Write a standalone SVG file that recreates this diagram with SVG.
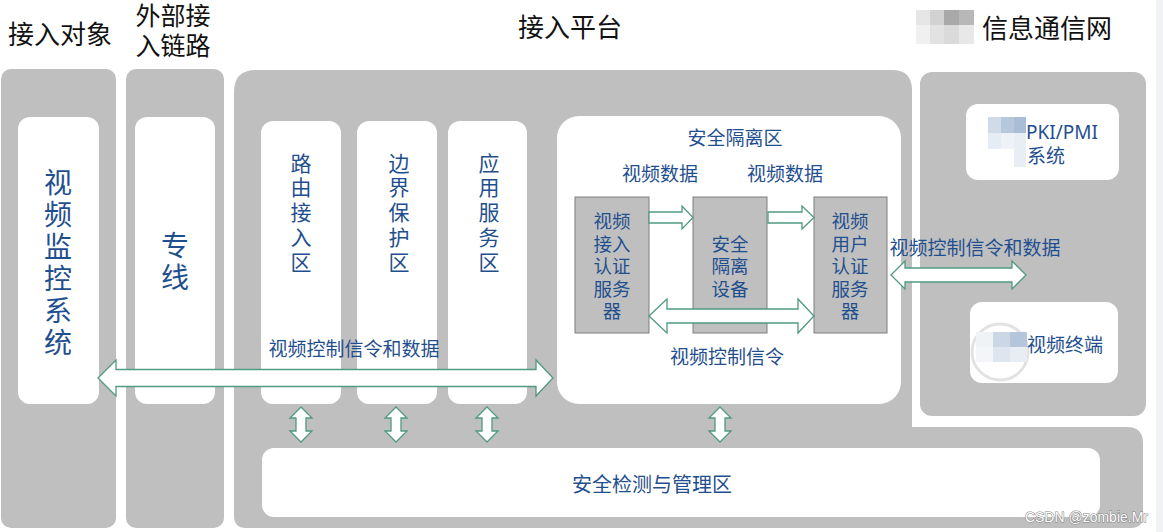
<svg xmlns="http://www.w3.org/2000/svg" width="1163" height="532" viewBox="0 0 1163 532">
<defs>
<style>
.bg{fill:#bfbfbf}
.wb{fill:#ffffff}
.gb{fill:#bfbfbf;stroke:#7f7f7f;stroke-width:1}
.ar{fill:#ffffff;stroke:#4f9a80;stroke-width:1.3;stroke-linejoin:miter}
.hd{font-family:"Noto Sans CJK SC","Noto Sans",sans-serif;font-size:26px;fill:#111;text-anchor:middle;dominant-baseline:central}
.tb{font-family:"Noto Sans CJK SC","Noto Sans",sans-serif;fill:#1f4f8f;text-anchor:middle;dominant-baseline:central}
.vt{font-family:"Noto Sans CJK SC","Noto Sans",sans-serif;fill:#1f4f8f;text-anchor:middle;writing-mode:vertical-rl}
.t28{font-size:28px}
.t21{font-size:21px}
.t19{font-size:19px}
.t18{font-size:18.5px}
.t20{font-size:20px}
.wm{font-family:"Liberation Sans",Arial,sans-serif;font-size:14px;fill:#ffffff;stroke:#808080;stroke-width:1;text-anchor:end;paint-order:stroke}
</style>
</defs>
<rect x="0" y="0" width="1163" height="532" fill="#ffffff"/>
<rect x="1156" y="0" width="7" height="532" fill="#f0f2f5"/>

<!-- headers -->
<g id="headers">
<text class="hd" x="60" y="32">接入对象</text>
<text class="hd" x="173" y="14" style="font-size:25px">外部接</text>
<text class="hd" x="173" y="44" style="font-size:25px">入链路</text>
<text class="hd" x="570" y="25">接入平台</text>
<text class="hd" x="1047" y="26">信息通信网</text>
<g id="mosaic-top">
<rect x="916" y="10" width="14" height="15" fill="#e6e6e6"/>
<rect x="930" y="10" width="14" height="15" fill="#d2d2d2"/>
<rect x="944" y="10" width="15" height="15" fill="#a9a9a9"/>
<rect x="959" y="10" width="15" height="15" fill="#b8b8b8"/>
<rect x="916" y="25" width="14" height="19" fill="#f0f0f0"/>
<rect x="930" y="25" width="14" height="19" fill="#e2e2e2"/>
<rect x="944" y="25" width="15" height="19" fill="#dadada"/>
<rect x="959" y="25" width="15" height="19" fill="#e8e8e8"/>
</g>
</g>

<!-- column 1 -->
<g id="col-access-object">
<rect class="bg" x="1" y="69" width="115" height="459" rx="10"/>
<rect class="wb" x="18" y="117" width="81" height="287" rx="12"/>
<text class="vt t28" x="58" y="264" style="letter-spacing:4px">视频监控系统</text>
</g>

<!-- column 2 -->
<g id="col-external-link">
<rect class="bg" x="126" y="69" width="98" height="459" rx="10"/>
<rect class="wb" x="135" y="117" width="80" height="287" rx="12"/>
<text class="vt t28" x="175" y="263" style="letter-spacing:4px">专线</text>
</g>

<!-- platform -->
<g id="platform">
<path class="bg" d="M256,70 H892 Q912,70 912,90 V427 H1127 Q1143,427 1143,443 V516 Q1143,528 1131,528 H246 Q234,528 234,516 V92 Q234,70 256,70 Z"/>
</g>

<g id="zone-routing">
<rect class="wb" x="261" y="121" width="80" height="283" rx="12"/>
<text class="vt t21" x="301" y="214" style="letter-spacing:3.75px">路由接入区</text>
</g>
<g id="zone-boundary">
<rect class="wb" x="357" y="121" width="80" height="283" rx="12"/>
<text class="vt t21" x="399" y="214" style="letter-spacing:3.75px">边界保护区</text>
</g>
<g id="zone-app">
<rect class="wb" x="448" y="121" width="79" height="283" rx="12"/>
<text class="vt t21" x="489" y="214" style="letter-spacing:3.75px">应用服务区</text>
</g>

<g id="zone-isolation">
<rect class="wb" x="557" y="116" width="344" height="288" rx="22"/>
<text class="tb t19" x="735" y="136">安全隔离区</text>
<text class="tb t19" x="660" y="172">视频数据</text>
<text class="tb t19" x="785" y="172">视频数据</text>
<text class="tb t19" x="727" y="355">视频控制信令</text>
</g>

<g id="srv-access">
<rect class="gb" x="575" y="197" width="74" height="136"/>
<text class="tb t18"><tspan x="612" y="220">视频</tspan><tspan x="612" y="243">接入</tspan><tspan x="612" y="265">认证</tspan><tspan x="612" y="288">服务</tspan><tspan x="612" y="310">器</tspan></text>
</g>
<g id="isolation-device">
<rect class="gb" x="693" y="197" width="74" height="136"/>
<text class="tb t18"><tspan x="730" y="243">安全</tspan><tspan x="730" y="265">隔离</tspan><tspan x="730" y="288">设备</tspan></text>
</g>
<g id="srv-user">
<rect class="gb" x="814" y="197" width="73" height="136"/>
<text class="tb t18"><tspan x="850" y="220">视频</tspan><tspan x="850" y="243">用户</tspan><tspan x="850" y="265">认证</tspan><tspan x="850" y="288">服务</tspan><tspan x="850" y="310">器</tspan></text>
</g>

<g id="zone-monitor">
<rect class="wb" x="262" y="448" width="838" height="69" rx="12"/>
<text class="tb t20" x="652" y="483">安全检测与管理区</text>
</g>

<!-- right network -->
<g id="network">
<rect class="bg" x="920" y="72" width="226" height="344" rx="12"/>
</g>
<g id="pki">
<rect class="wb" x="966" y="104" width="153" height="76" rx="12"/>
<text class="tb t19" x="1026" y="132" style="text-anchor:start;font-family:'Noto Sans','Noto Sans CJK SC',sans-serif">PKI/PMI</text>
<text class="tb t19" x="1027" y="154" style="text-anchor:start">系统</text>
<rect x="988" y="117" width="13" height="16" fill="#cfdbe8"/>
<rect x="1001" y="117" width="13" height="16" fill="#b7c8dc"/>
<rect x="1014" y="117" width="12" height="16" fill="#a9bdd6"/>
<rect x="988" y="133" width="13" height="16" fill="#e6ecf3"/>
<rect x="1001" y="133" width="13" height="16" fill="#eef2f7"/>
<rect x="1014" y="133" width="12" height="34" fill="#e9eef4"/>
</g>
<g id="terminal">
<rect class="wb" x="970" y="302" width="148" height="81" rx="12"/>
<circle cx="1000" cy="352" r="28" fill="none" stroke="#e2e2e2" stroke-width="3"/>
<text class="tb t19" x="1027" y="343" style="text-anchor:start">视频终端</text>
<rect x="976" y="332" width="17" height="15" fill="#f0f3f6"/>
<rect x="993" y="332" width="17" height="15" fill="#cbd7e5"/>
<rect x="1010" y="332" width="17" height="15" fill="#b3c6dc"/>
<rect x="976" y="347" width="17" height="15" fill="#f3f5f8"/>
<rect x="993" y="347" width="17" height="15" fill="#dde5ee"/>
<rect x="1010" y="347" width="17" height="15" fill="#e8edf3"/>
</g>

<!-- connectors -->
<g id="connectors">
<polygon class="ar" points="98,378 116,360 116,369.5 536,369.5 536,360 553,378 536,396 536,386.5 116,386.5 116,396"/>
<polygon class="ar" points="649,212 682,212 682,206 693,217.5 682,229 682,223 649,223"/>
<polygon class="ar" points="768,212 802,212 802,206 814,217.5 802,229 802,223 768,223"/>
<polygon class="ar" points="649,316 667,299 667,309 798,309 798,299 814,316 798,333 798,323 667,323 667,333"/>
<polygon class="ar" points="891,275 905,261 905,268 1012,268 1012,261 1026,275 1012,289 1012,282 905,282 905,289"/>
<polygon class="ar" points="301,407 312,418 306,418 306,431 312,431 301,442 290,431 296,431 296,418 290,418"/>
<polygon class="ar" points="396,407 407,418 401,418 401,431 407,431 396,442 385,431 391,431 391,418 385,418"/>
<polygon class="ar" points="487,407 498,418 492,418 492,431 498,431 487,442 476,431 482,431 482,418 476,418"/>
<polygon class="ar" points="720,407 731,418 725,418 725,431 731,431 720,442 709,431 715,431 715,418 709,418"/>
</g>

<g id="labels">
<text class="tb t19" x="354" y="347">视频控制信令和数据</text>
<text class="tb t19" x="975" y="246">视频控制信令和数据</text>
</g>

<text class="wm" x="1148" y="522">CSDN @zombie.Mr</text>
</svg>
